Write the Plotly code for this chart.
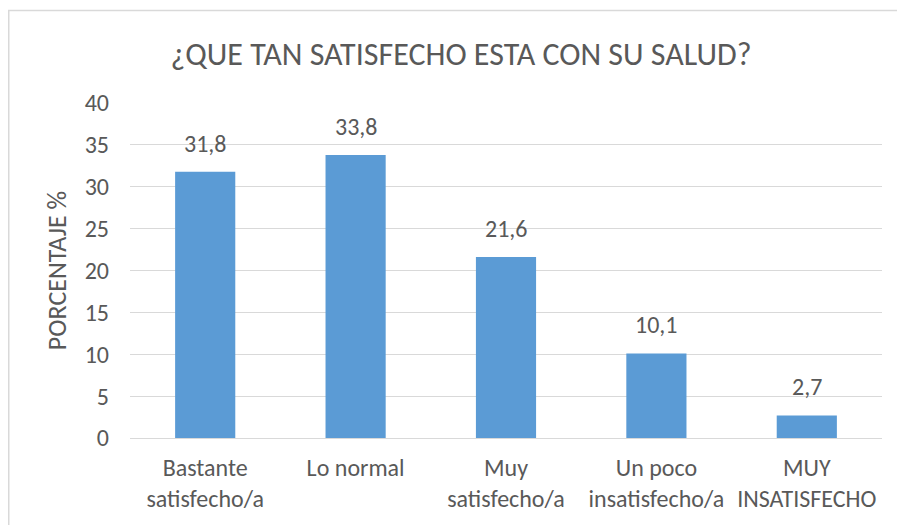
import plotly.graph_objects as go

categories = ["Bastante<br>satisfecho/a", "Lo normal", "Muy<br>satisfecho/a",
              "Un poco<br>insatisfecho/a", "MUY<br>INSATISFECHO"]
values = [31.8, 33.8, 21.6, 10.1, 2.7]
y_ticks = [0, 5, 10, 15, 20, 25, 30, 35, 40]

FONT = "Carlito, Calibri, Lato, sans-serif"
TXT = "#595959"

fig = go.Figure(go.Bar(
    x=categories, y=values, width=0.4,
    marker=dict(color="#5B9BD5", line=dict(width=0)),
    hoverinfo="x+y",
))

for c, v in zip(categories, values):
    fig.add_annotation(x=c, y=v, text=f"{v:.1f}".replace(".", ","), showarrow=False,
                       yanchor="bottom", yshift=12,
                       font=dict(size=24, color=TXT, family=FONT))

FW, FH = 897, 525
# plot area in pixels
L, R, T, B = 130, 882, 103, 440
W, H = R - L, B - T

fig.update_layout(
    width=FW, height=FH,
    margin=dict(l=L, r=FW - R, t=T, b=FH - B),
    paper_bgcolor="white", plot_bgcolor="white",
    font=dict(family=FONT, color=TXT, size=24),
    title=dict(text="¿QUE TAN SATISFECHO ESTA CON SU SALUD?", x=461 / FW, xanchor="center",
               y=1 - 54 / FH, yanchor="middle", xref="container", yref="container",
               font=dict(size=32, color=TXT, family=FONT)),
    showlegend=False,
)
fig.update_yaxes(range=[0, 40], tickvals=y_ticks, showgrid=True, gridcolor="#d9d9d9",
                 gridwidth=1, zeroline=False, showline=False, ticks="",
                 tickfont=dict(size=24, color=TXT), ticklabelstandoff=20,
                 title=dict(text="PORCENTAJE %", font=dict(size=26, color=TXT), standoff=10))
fig.update_xaxes(showline=True, linecolor="#d9d9d9", linewidth=1, ticks="",
                 tickfont=dict(size=24, color=TXT), ticklabelstandoff=8)

fig.add_shape(type="rect", xref="paper", yref="paper",
              x0=(8.75 - L) / W, x1=(980 - L) / W, y0=(B - 600) / H, y1=(B - 10) / H,
              line=dict(color="#d9d9d9", width=1.5), fillcolor="rgba(0,0,0,0)", layer="below")

fig.write_html("out.html", config={"displayModeBar": False},
               post_script="document.body.style.margin='0';")
